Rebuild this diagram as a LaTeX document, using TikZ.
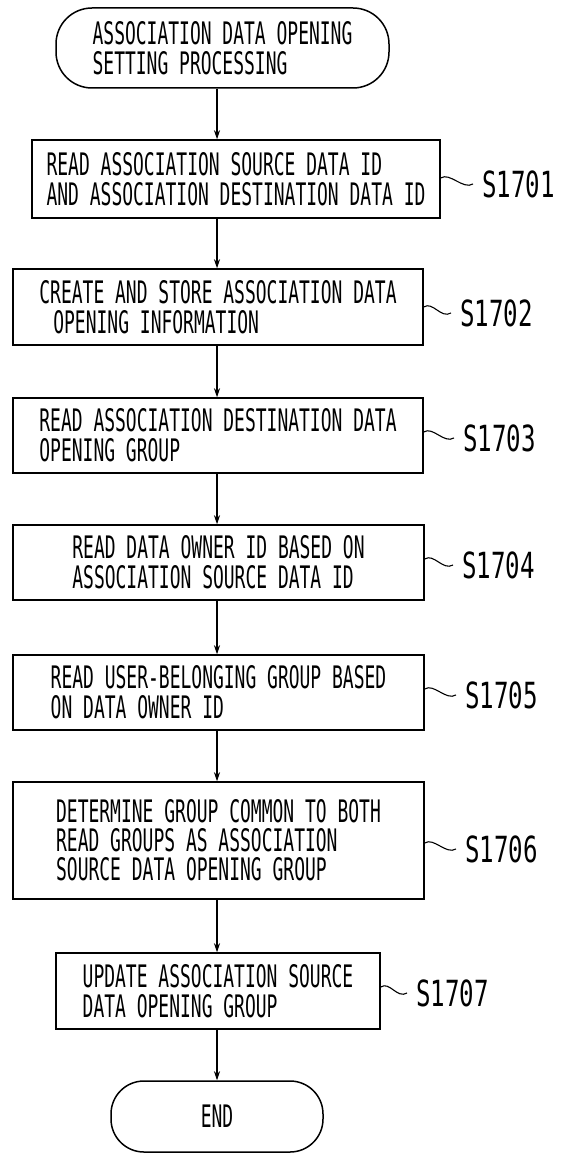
\documentclass[tikz,border=0pt]{standalone}
\usepackage{fontspec}
\setmainfont{DejaVu Sans Mono}
\newfontfamily\boxfont{DejaVu Sans Mono}[FakeStretch=0.58]
\newfontfamily\stepfont{DejaVu Sans Mono}[FakeStretch=0.67]
\usetikzlibrary{arrows.meta,calc}

\tikzset{
  procbox/.style={draw, line width=1.5pt, align=left, inner sep=0pt,
    font=\boxfont\fontsize{31}{30}\selectfont},
  termbox/.style={procbox, rounded corners=36pt},
  steplabel/.style={anchor=west, inner sep=0pt, font=\stepfont\fontsize{36}{38}\selectfont},
  flowarrow/.style={line width=1.1pt, -{Stealth[length=9pt,width=6pt]}},
  tildeline/.style={line width=1.1pt},
}

\begin{document}
\begin{tikzpicture}[x=1pt,y=-1pt]
\useasboundingbox (0,0) rectangle (565,1155);

%%%%%%%%%%%%%%%% terminals and steps
\node[termbox, minimum width=333pt, minimum height=80pt] (start) at (222.5,48)
  {ASSOCIATION DATA OPENING\\SETTING PROCESSING};
\node[procbox, minimum width=408pt, minimum height=78pt] (readIds) at (236,179)
  {READ ASSOCIATION SOURCE DATA ID\\AND ASSOCIATION DESTINATION DATA ID};
\node[procbox, minimum width=410pt, minimum height=76pt] (storeInfo) at (218,307)
  {CREATE AND STORE ASSOCIATION DATA\\\hspace*{0.45em}OPENING INFORMATION};
\node[procbox, minimum width=410pt, minimum height=75pt] (readDestGroup) at (218,435.5)
  {READ ASSOCIATION DESTINATION DATA\\OPENING GROUP};
\node[procbox, minimum width=411pt, minimum height=75pt] (readOwner) at (218.5,562.5)
  {READ DATA OWNER ID BASED ON\\ASSOCIATION SOURCE DATA ID};
\node[procbox, minimum width=411pt, minimum height=75pt] (readUserGroup) at (218.5,692.5)
  {READ USER-BELONGING GROUP BASED\\ON DATA OWNER ID};
\node[procbox, minimum width=411pt, minimum height=117pt,
      font=\boxfont\fontsize{31}{29}\selectfont] (commonGroup) at (218.5,840.5)
  {DETERMINE GROUP COMMON TO BOTH\\READ GROUPS AS ASSOCIATION\\SOURCE DATA OPENING GROUP};
\node[procbox, minimum width=324pt, minimum height=76pt] (updateGroup) at (218,991)
  {UPDATE ASSOCIATION SOURCE\\DATA OPENING GROUP};
\node[termbox, minimum width=212pt, minimum height=71pt, rounded corners=33pt] (finish) at (217,1116.5) {END};

%%%%%%%%%%%%%%%% flow
\coordinate (flowAxis) at (217,0);
\draw[flowarrow] (start.south -| flowAxis) -- (readIds.north -| flowAxis);
\draw[flowarrow] (readIds.south -| flowAxis) -- (storeInfo.north -| flowAxis);
\draw[flowarrow] (storeInfo.south -| flowAxis) -- (readDestGroup.north -| flowAxis);
\draw[flowarrow] (readDestGroup.south -| flowAxis) -- (readOwner.north -| flowAxis);
\draw[flowarrow] (readOwner.south -| flowAxis) -- (readUserGroup.north -| flowAxis);
\draw[flowarrow] (readUserGroup.south -| flowAxis) -- (commonGroup.north -| flowAxis);
\draw[flowarrow] (commonGroup.south -| flowAxis) -- (updateGroup.north -| flowAxis);
\draw[flowarrow] (updateGroup.south -| flowAxis) -- (finish.north -| flowAxis);

%%%%%%%%%%%%%%%% step numbers
\node[steplabel] (labA) at (482,184) {S1701};
\node[steplabel] (labB) at (460,313) {S1702};
\node[steplabel] (labC) at (463,438) {S1703};
\node[steplabel] (labD) at (462,565) {S1704};
\node[steplabel] (labE) at (465,695) {S1705};
\node[steplabel] (labF) at (465,849) {S1706};
\node[steplabel] (labG) at (416,993) {S1707};

%% tildes
\draw[tildeline] ($(readIds.east |- labA.west)+(0,-6)$) .. controls +(9,-6) and +(-10,6) .. ($(labA.west)+(-9,0)$);
\draw[tildeline] ($(storeInfo.east |- labB.west)+(0,-6)$) .. controls +(9,-6) and +(-10,6) .. ($(labB.west)+(-9,0)$);
\draw[tildeline] ($(readDestGroup.east |- labC.west)+(0,-6)$) .. controls +(9,-6) and +(-10,6) .. ($(labC.west)+(-9,0)$);
\draw[tildeline] ($(readOwner.east |- labD.west)+(0,-6)$) .. controls +(9,-6) and +(-10,6) .. ($(labD.west)+(-9,0)$);
\draw[tildeline] ($(readUserGroup.east |- labE.west)+(0,-6)$) .. controls +(9,-6) and +(-10,6) .. ($(labE.west)+(-9,0)$);
\draw[tildeline] ($(commonGroup.east |- labF.west)+(0,-6)$) .. controls +(9,-6) and +(-10,6) .. ($(labF.west)+(-9,0)$);
\draw[tildeline] ($(updateGroup.east |- labG.west)+(0,-6)$) .. controls +(9,-6) and +(-10,6) .. ($(labG.west)+(-9,0)$);

\end{tikzpicture}
\end{document}
